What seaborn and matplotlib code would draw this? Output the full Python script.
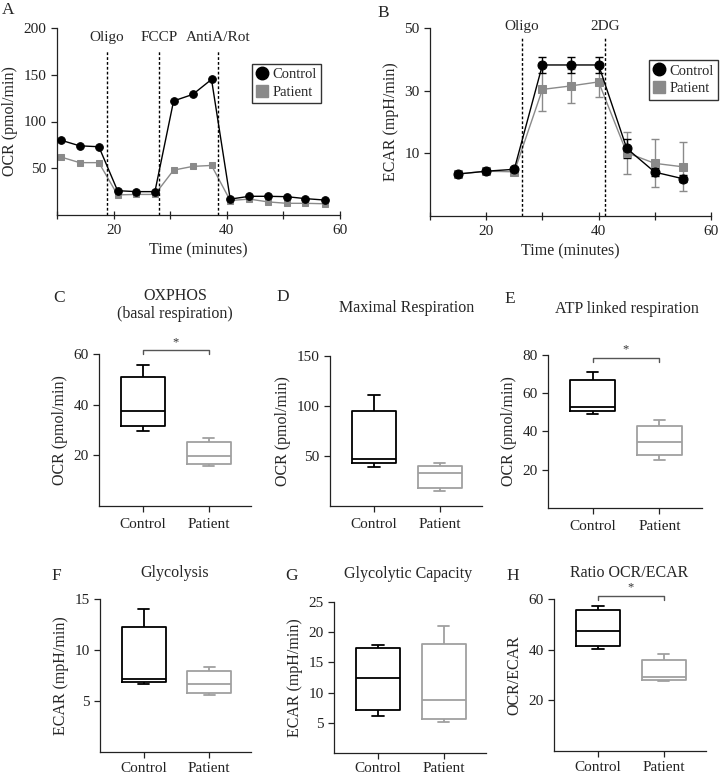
import pandas as pd
import seaborn as sns
import matplotlib.pyplot as plt
from matplotlib.lines import Line2D

# --- Data ---
time_a = [10.7, 14.0, 17.4, 20.7, 24.0, 27.3, 30.6, 34.0, 37.3, 40.6, 44.0, 47.3, 50.6, 53.9, 57.3]
ocr_control = [80, 74, 73, 26, 25, 25, 122, 129, 145, 17, 20, 20, 19.6, 17.5, 16]
ocr_patient = [62, 56, 56, 21.5, 22, 22, 48, 52, 53, 15.5, 17, 14, 12.5, 12.5, 12]
injections_a = [("Oligo", 18.8), ("FCCP", 28.1), ("AntiA/Rot", 38.4)]

time_b = [15, 20, 25, 30, 35, 40, 45, 50, 55]
ecar_control = [3.4, 4.3, 4.9, 38.2, 38.2, 38.2, 11.6, 4.0, 1.9]
ecar_control_err = [0.6, 0.6, 0.6, 2.5, 2.5, 2.5, 3.0, 1.3, 1.2]
ecar_patient = [3.4, 4.3, 4.1, 30.4, 31.5, 32.8, 10.2, 6.8, 5.7]
ecar_patient_err = [0.5, 0.5, 0.5, 7.0, 5.3, 4.7, 6.7, 7.7, 7.8]
injections_b = [("Oligo", 26.4), ("2DG", 41.2)]

groups = ["Control", "Patient"]
# five-number summaries (min, Q1, median, Q3, max) per group
oxphos_control = [29.8, 31.7, 37.5, 50.9, 55.7]
oxphos_patient = [15.7, 16.5, 19.8, 25.2, 26.8]
maxresp_control = [39.3, 42.7, 46.7, 94.7, 111]
maxresp_patient = [15.3, 18.3, 33.3, 40, 42.7]
atp_control = [49.4, 50.8, 53, 67, 71]
atp_patient = [25.3, 27.9, 34.7, 43.1, 46.2]
glyco_control = [6.7, 6.86, 7.16, 12.3, 14.05]
glyco_patient = [5.62, 5.82, 6.67, 7.9, 8.33]
glycap_control = [6.2, 7.15, 12.4, 17.4, 17.8]
glycap_patient = [5.2, 5.7, 8.8, 18.1, 21]
ratio_control = [40.4, 41.6, 47.2, 55.6, 57.1]
ratio_patient = [27.6, 28, 29.1, 35.8, 38.4]

W, H = 721, 777
CTRL = "black"
PAT = "#8a8a8a"
PAT_BOX = "#a0a0a0"

sns.set_theme(style="ticks")
plt.rcParams["font.family"] = ["Liberation Serif", "DejaVu Serif"]
plt.rcParams["axes.linewidth"] = 0.9
plt.rcParams["axes.edgecolor"] = "#222222"

fig = plt.figure(figsize=(W / 100, H / 100), dpi=100)


def add_ax(l, t, r, b):
    return fig.add_axes([l / W, 1 - b / H, (r - l) / W, (b - t) / H])


def ftext(x, y, s, **kw):
    fig.text(x / W, 1 - y / H, s, ha="center", va="center", **kw)


def style_ax(ax):
    sns.despine(ax=ax)
    ax.tick_params(axis="both", labelsize=11, length=4, width=0.9, colors="#222222")


def trace_panel(ax, t, ctrl, pat, ctrl_err=None, pat_err=None, ms=6):
    if pat_err is not None:
        ax.errorbar(t, pat, yerr=pat_err, fmt="none", ecolor=PAT, capsize=3, elinewidth=1, zorder=1)
        ax.errorbar(t, ctrl, yerr=ctrl_err, fmt="none", ecolor=CTRL, capsize=3, elinewidth=1, zorder=1)
    sns.lineplot(x=t, y=pat, ax=ax, color=PAT, marker="s", markersize=ms - 0.5,
                 markeredgecolor=PAT, linewidth=1, zorder=2)
    sns.lineplot(x=t, y=ctrl, ax=ax, color=CTRL, marker="o", markersize=ms,
                 markeredgecolor=CTRL, linewidth=1, zorder=3)
    ax.set_xlim(10, 60)
    ax.set_xticks([10, 20, 30, 40, 50, 60])
    ax.set_xticklabels(["", "20", "", "40", "", "60"])
    ax.set_xlabel("Time (minutes)", fontsize=11.5, labelpad=4)
    handles = [Line2D([], [], marker="o", color=CTRL, linestyle="none", markersize=9),
               Line2D([], [], marker="s", color=PAT, linestyle="none", markersize=9)]
    return handles


def legend(ax, handles, anchor):
    leg = ax.legend(handles, groups, loc="upper left", bbox_to_anchor=anchor, frameon=True,
                    fancybox=False, edgecolor="black", fontsize=10.5, handletextpad=0.3,
                    borderpad=0.3, labelspacing=0.3, handlelength=0.8, borderaxespad=0)
    leg.get_frame().set_linewidth(1)


# --- Panel A: OCR trace ---
ax = add_ax(57, 28, 340, 215)
h = trace_panel(ax, time_a, ocr_control, ocr_patient, ms=5.5)
ax.set_ylim(0, 200)
ax.set_yticks([50, 100, 150, 200])
ax.set_ylabel("OCR (pmol/min)", fontsize=11.5, labelpad=4)
for name, x in injections_a:
    ax.plot([x, x], [0, 175], color="black", linestyle=(0, (2, 1.5)), linewidth=1)
    ax.text(x, 190, name, ha="center", va="center", fontsize=11)
style_ax(ax)
ax.tick_params(axis="x", direction="inout", length=6)
legend(ax, h, (0.69, 0.81))

# --- Panel B: ECAR trace ---
ax = add_ax(430, 28, 711, 216)
h = trace_panel(ax, time_b, ecar_control, ecar_patient, ecar_control_err, ecar_patient_err, ms=6.5)
ax.set_ylim(-10, 50)
ax.set_yticks([10, 30, 50])
ax.set_ylabel("ECAR (mpH/min)", fontsize=11.5, labelpad=4)
for name, x in injections_b:
    ax.plot([x, x], [-10, 47], color="black", linestyle=(0, (2, 1.5)), linewidth=1, clip_on=False)
    ax.text(x, 50.5, name, ha="center", va="center", fontsize=11)
style_ax(ax)
ax.tick_params(axis="x", direction="inout", length=6)
legend(ax, h, (0.78, 0.83))


# --- Box plots ---
def box_panel(rect, ctrl, pat, ylim, yticks, ylabel, star=None, xpad=3):
    ax = add_ax(*rect)
    df = pd.DataFrame({"group": ["Control"] * len(ctrl) + ["Patient"] * len(pat),
                       "value": ctrl + pat})
    sns.boxplot(data=df, x="group", y="value", hue="group", order=groups,
                palette={"Control": CTRL, "Patient": PAT_BOX}, fill=False,
                whis=(0, 100), width=0.67, linewidth=1.3, legend=False, ax=ax,
                capwidths=0.17)
    ax.set_xlim(-0.67, 1.64)
    ax.set_ylim(*ylim)
    ax.set_yticks(yticks)
    ax.set_xlabel("")
    ax.set_ylabel(ylabel, fontsize=11.5, labelpad=4)
    style_ax(ax)
    ax.tick_params(axis="x", pad=xpad)
    if star is not None:
        y0, y1, ys = star
        ax.plot([0, 0, 1, 1], [y0, y1, y1, y0], color="#555555", linewidth=1, clip_on=False)
        ax.text(0.5, ys, "*", ha="center", va="center", fontsize=9, color="#333333")
    return ax


box_panel((99, 354, 251, 506), oxphos_control, oxphos_patient, (0, 60), [20, 40, 60],
          "OCR (pmol/min)", star=(60, 61.6, 64.5), xpad=5)
box_panel((330, 356, 482, 506), maxresp_control, maxresp_patient, (0, 150), [50, 100, 150],
          "OCR (pmol/min)", xpad=5)
box_panel((548, 355, 702, 508), atp_control, atp_patient, (0, 80), [20, 40, 60, 80],
          "OCR (pmol/min)", star=(76.5, 78.5, 83), xpad=5)
box_panel((100, 599, 251, 752), glyco_control, glyco_patient, (0, 15), [5, 10, 15],
          "ECAR (mpH/min)")
box_panel((334, 602, 486, 753), glycap_control, glycap_patient, (0, 25), [5, 10, 15, 20, 25],
          "ECAR (mpH/min)", xpad=2.5)
box_panel((554, 599, 706, 751), ratio_control, ratio_patient, (0, 60), [20, 40, 60],
          "OCR/ECAR", star=(59.6, 61.2, 64.5))

# titles and panel letters
ftext(175, 305, "OXPHOS\n(basal respiration)", fontsize=11.5, linespacing=1.1)
ftext(407, 308, "Maximal Respiration", fontsize=11.5)
ftext(627, 309, "ATP linked respiration", fontsize=11.5)
ftext(175, 573, "Glycolysis", fontsize=11.5)
ftext(408, 574, "Glycolytic Capacity", fontsize=11.5)
ftext(629, 573, "Ratio OCR/ECAR", fontsize=11.5)

for letter, x, y in [("A", 8, 10), ("B", 383, 13), ("C", 59, 298), ("D", 283, 297),
                     ("E", 510, 299), ("F", 56, 576), ("G", 291, 576), ("H", 513, 576)]:
    ftext(x, y, letter, fontsize=12.5)

fig.savefig("out.png", dpi=100)
plt.close(fig)
